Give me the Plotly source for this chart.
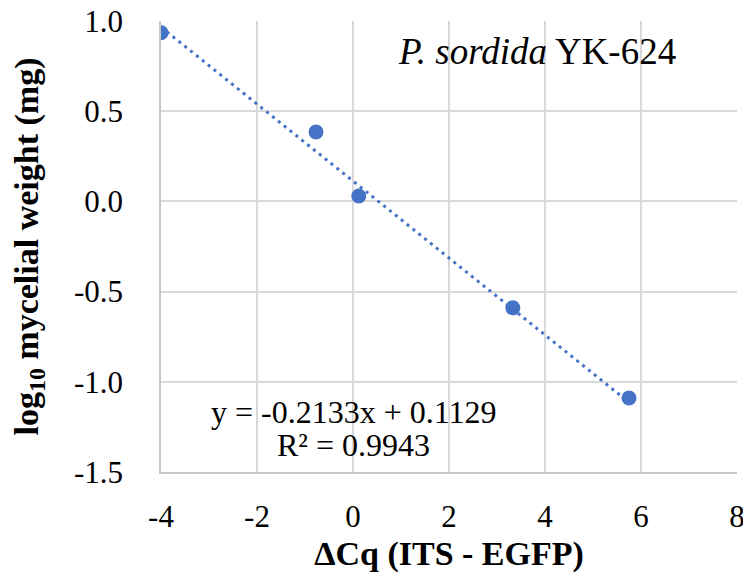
import plotly.graph_objects as go
import numpy as np

# Data
dcq = [-4.0, -0.77, 0.12, 3.33, 5.75]
log_weight = [0.935, 0.385, 0.03, -0.59, -1.09]
slope = -0.2133
intercept = 0.1129
r2 = 0.9943
x_ticks = [-4, -2, 0, 2, 4, 6, 8]
y_ticks = [-1.5, -1.0, -0.5, 0.0, 0.5, 1.0]

blue = "#4472C4"
font = "Liberation Serif, Times New Roman, serif"

xl = np.array([min(dcq), max(dcq)])
yl = slope * xl + intercept

fig = go.Figure()
fig.add_trace(go.Scatter(x=xl, y=yl, mode="lines",
                         line=dict(color=blue, width=3, dash="3px,4.5px"),
                         showlegend=False, hoverinfo="skip"))
fig.add_trace(go.Scatter(x=dcq, y=log_weight, mode="markers",
                         marker=dict(color=blue, size=15),
                         showlegend=False))

fig.add_annotation(x=3.84, y=0.83, xref="x", yref="y", showarrow=False,
                   text="<i>P. sordida</i> YK-624",
                   font=dict(family=font, size=37, color="black"))
fig.add_annotation(x=0.02, y=-1.17, xref="x", yref="y", showarrow=False,
                   text=f"y = {slope:.4f}x + {intercept:.4f}",
                   font=dict(family=font, size=32, color="black"))
fig.add_annotation(x=0.02, y=-1.35, xref="x", yref="y", showarrow=False,
                   text=f"R² = {r2:.4f}",
                   font=dict(family=font, size=32, color="black"))

fig.update_xaxes(range=[-4, 8], tickvals=x_ticks, ticktext=[str(v) for v in x_ticks],
                 showgrid=True, gridcolor="#d9d9d9", gridwidth=1.5,
                 zeroline=False, showline=True, linecolor="#c8c8c8", linewidth=1.5,
                 ticks="", ticklabelstandoff=16, automargin=False,
                 ticklabeloverflow="allow",
                 tickfont=dict(family=font, size=31, color="black"),
                 title=dict(text="<b>ΔCq (ITS - EGFP)</b>", standoff=8,
                            font=dict(family=font, size=34, color="black")))
fig.update_yaxes(range=[-1.5, 1.0], tickvals=y_ticks,
                 ticktext=[f"{v:.1f}" for v in y_ticks],
                 showgrid=True, gridcolor="#d9d9d9", gridwidth=1.5,
                 zeroline=False, showline=True, linecolor="#c8c8c8", linewidth=1.5,
                 ticks="", ticklabelstandoff=30, automargin=False,
                 ticklabeloverflow="allow",
                 tickfont=dict(family=font, size=31, color="black"),
                 title=dict(text="<b>log<sub>10</sub> mycelial weight (mg)</b>", standoff=36,
                            font=dict(family=font, size=34, color="black")))

fig.update_layout(width=743, height=567,
                  margin=dict(l=153, r=14, t=13, b=103),
                  plot_bgcolor="white", paper_bgcolor="white")

fig.write_html("out.html")
